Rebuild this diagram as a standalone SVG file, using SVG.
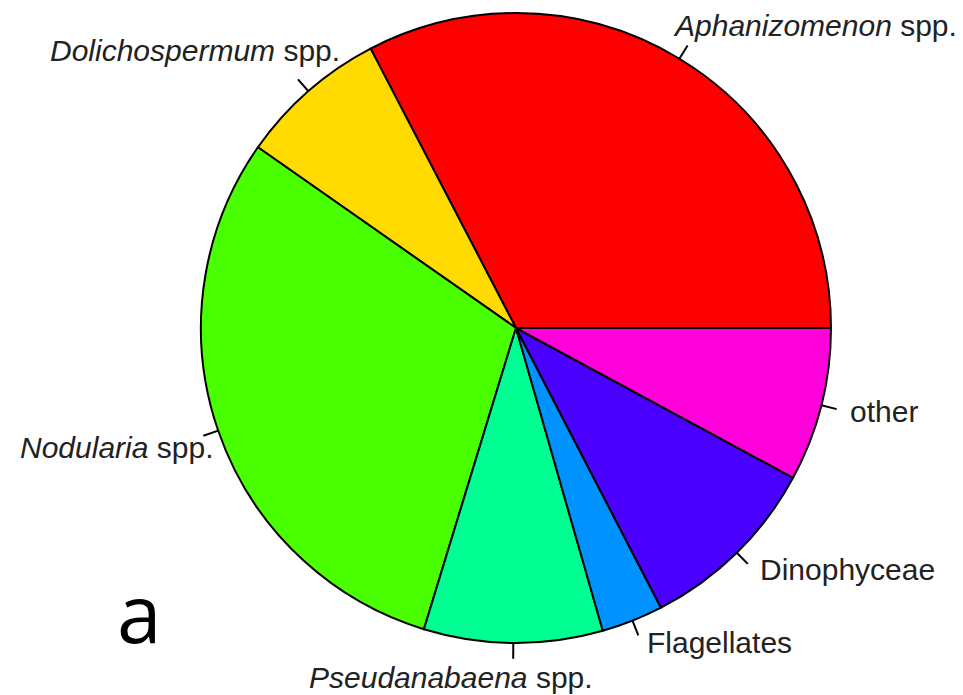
<svg xmlns="http://www.w3.org/2000/svg" width="963" height="695" viewBox="0 0 963 695">
<style>
.slice{stroke:#000;stroke-width:2;stroke-linejoin:round}
.lbl{font-family:"Liberation Sans",Arial,sans-serif;font-size:30px;fill:#222}
.it{font-style:italic}
.tick{stroke:#000;stroke-width:2;fill:none}
.panel{font-family:"Open Sans","DejaVu Sans",sans-serif;font-size:80px;fill:#000}
</style>
<rect width="963" height="695" fill="#fff"/>
<g id="aphanizomenon">
<path class="slice" fill="#FF0000" d="M516,328 L831,328 A315,315 0 0 0 370.6,48.6 Z"/>
<text class="lbl" x="675" y="36"><tspan class="it">Aphanizomenon</tspan> spp.</text>
</g>
<g id="dolichospermum">
<path class="slice" fill="#FFDB00" d="M516,328 L370.6,48.6 A315,315 0 0 0 257.9,147.3 Z"/>
<text class="lbl" x="50" y="61"><tspan class="it">Dolichospermum</tspan> spp.</text>
</g>
<g id="nodularia">
<path class="slice" fill="#49FF00" d="M516,328 L257.9,147.3 A315,315 0 0 0 423.9,629.2 Z"/>
<text class="lbl" x="20" y="458"><tspan class="it">Nodularia</tspan> spp.</text>
</g>
<g id="pseudanabaena">
<path class="slice" fill="#00FF92" d="M516,328 L423.9,629.2 A315,315 0 0 0 602.8,630.8 Z"/>
<text class="lbl" x="309" y="688"><tspan class="it">Pseudanabaena</tspan> spp.</text>
</g>
<g id="flagellates">
<path class="slice" fill="#0092FF" d="M516,328 L602.8,630.8 A315,315 0 0 0 661,607.7 Z"/>
<text class="lbl" x="647" y="653">Flagellates</text>
</g>
<g id="dinophyceae">
<path class="slice" fill="#4900FF" d="M516,328 L661,607.7 A315,315 0 0 0 793.1,477.8 Z"/>
<text class="lbl" x="760" y="580">Dinophyceae</text>
</g>
<g id="other">
<path class="slice" fill="#FF00DB" d="M516,328 L793.1,477.8 A315,315 0 0 0 831,328 Z"/>
<text class="lbl" x="850" y="422">other</text>
</g>
<g id="connectors">
<line class="tick" x1="679.4" y1="58.7" x2="687.6" y2="45.4"/>
<line class="tick" x1="308.3" y1="91.2" x2="298" y2="79.3"/>
<line class="tick" x1="218.2" y1="430.6" x2="203.3" y2="435.7"/>
<line class="tick" x1="513.3" y1="643" x2="513.2" y2="658.7"/>
<line class="tick" x1="632.5" y1="620.7" x2="638.3" y2="635.3"/>
<line class="tick" x1="736.8" y1="552.7" x2="747.8" y2="563.9"/>
<line class="tick" x1="821.4" y1="405.3" x2="836.7" y2="409.1"/>
</g>
<g id="panel-label">
<text class="panel" x="117" y="643">a</text>
</g>
</svg>
